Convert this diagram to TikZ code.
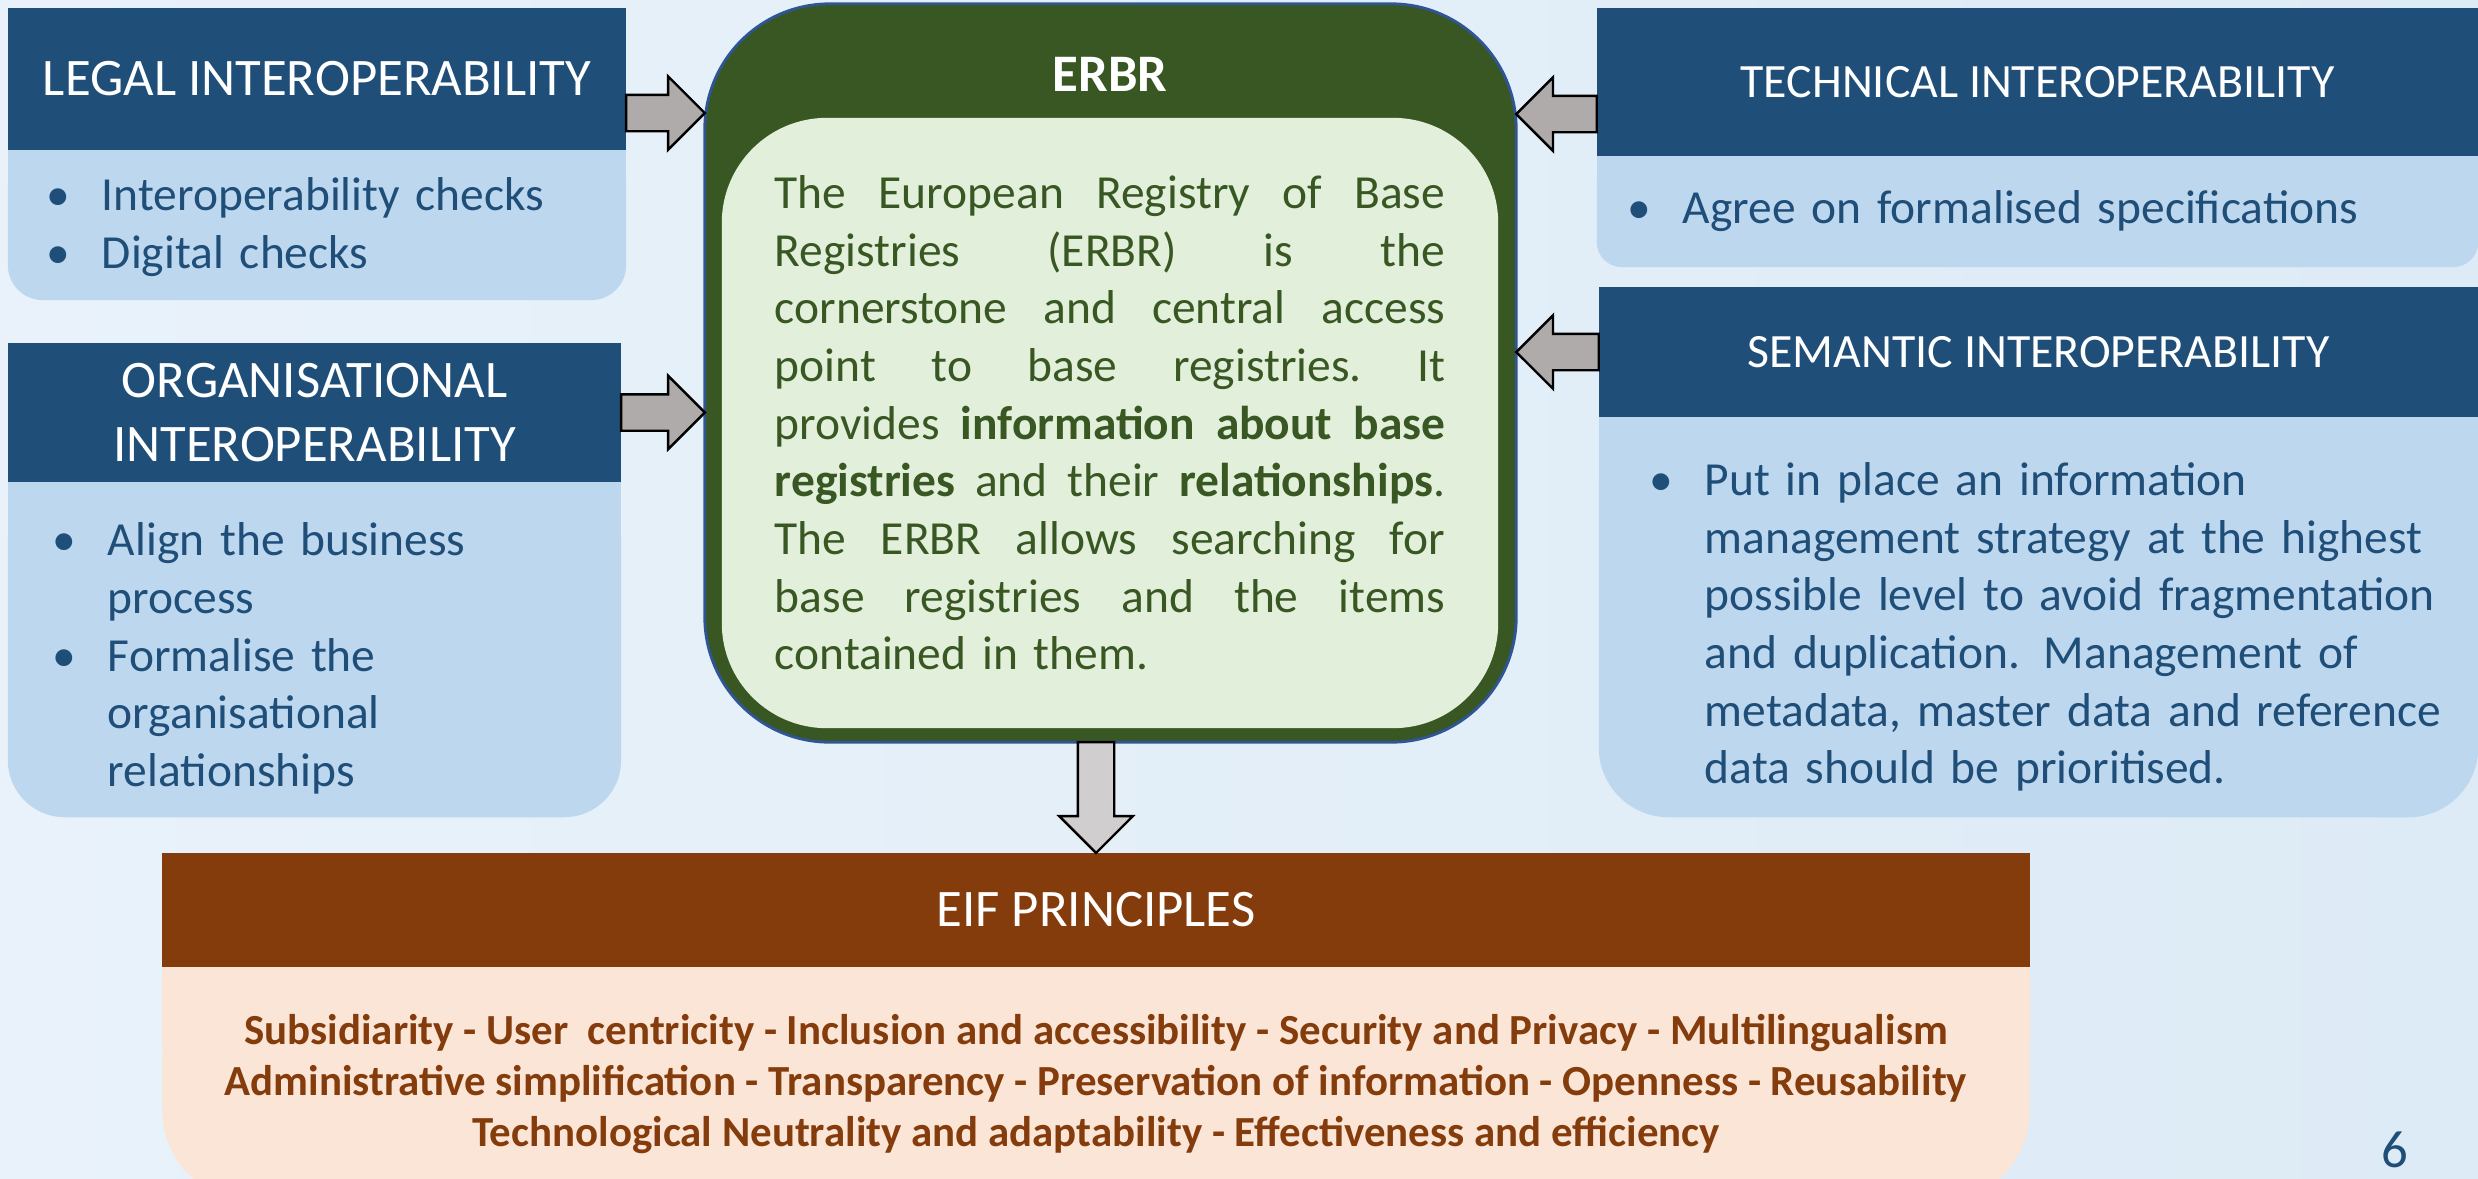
\documentclass[tikz,border=0pt]{standalone}
\usepackage{fontspec}
\setmainfont{Carlito}
\usepackage{tikz}
\usetikzlibrary{shapes,arrows,positioning,calc}
\definecolor{headBlue}{RGB}{31,78,121}
\definecolor{bodyBlue}{RGB}{189,215,238}
\definecolor{erbrGreen}{RGB}{56,87,35}
\definecolor{erbrLight}{RGB}{226,239,218}
\definecolor{erbrEdge}{RGB}{47,85,151}
\definecolor{eifBrown}{RGB}{132,60,12}
\definecolor{eifLight}{RGB}{251,229,214}
\definecolor{arrowGray}{RGB}{175,171,171}
\definecolor{downGray}{RGB}{208,206,206}
\definecolor{bgLeft}{RGB}{233,242,250}
\definecolor{bgRight}{RGB}{221,235,246}
\tikzstyle{headBox} = [rectangle, fill=headBlue, text=white, align=center, inner sep=0pt, outer sep=0pt, font=\fontsize{15}{18}\selectfont]
\tikzstyle{bodyBox} = [rectangle, fill=bodyBlue, text=headBlue, align=left, inner ysep=0pt, outer sep=0pt, font=\fontsize{13.5}{16.4}\selectfont]
\tikzstyle{erbrBox} = [rectangle, rounded corners=1.25cm, fill=erbrGreen, draw=erbrEdge, line width=0.8pt, outer sep=0pt]
\tikzstyle{erbrInner} = [rectangle, rounded corners=1.05cm, fill=erbrLight, text=erbrGreen, align=left, inner sep=0pt, font=\fontsize{13.5}{16.4}\selectfont]
\tikzstyle{eifBody} = [rectangle, fill=eifLight, text=eifBrown, align=center, inner sep=0pt, outer sep=0pt, font=\fontsize{12.2}{14.4}\selectfont\bfseries]
\tikzstyle{arrowShape} = [single arrow, draw=black, line width=0.7pt, inner xsep=0pt, inner ysep=0.17cm, single arrow head extend=0.185cm, outer sep=0pt]
\tikzset{blockArrow/.style={to path={let \p1=(\tikztostart), \p2=(\tikztotarget), \n1={veclen(\x2-\x1,\y2-\y1)}, \n2={atan2(\y2-\y1,\x2-\x1)} in node[arrowShape, fill=#1, minimum height=\n1, rotate=\n2, anchor=tail] at (\p1) {}}}}
\newcommand{\jline}[1]{\leavevmode\hbox to 6.7cm{\spaceskip=\fontdimen2\font plus 1fil\xspaceskip=\spaceskip\relax #1}}

\begin{document}
\begin{tikzpicture}[x=0.01cm,y=-0.01cm]
	\useasboundingbox (0,0) rectangle (2478,1178);
	\clip (0,0) rectangle (2478,1178);
	\shade[left color=bgLeft, right color=bgRight] (0,0) rectangle (2478,1178);
	%headers
	\node[headBox, minimum width=6.18cm, minimum height=1.42cm](legalHead) at (317,79){LEGAL INTEROPERABILITY};
	\node[headBox, minimum width=6.13cm, minimum height=1.39cm](orgHead) at (314.5,412.5){ORGANISATIONAL\\INTEROPERABILITY};
	\node[headBox, font=\fontsize{13.6}{16}\selectfont, minimum width=8.81cm, minimum height=1.48cm](techHead) at (2037.5,82){TECHNICAL INTEROPERABILITY};
	\node[headBox, font=\fontsize{13.6}{16}\selectfont, minimum width=8.79cm, minimum height=1.30cm](semHead) at (2038.5,352){SEMANTIC INTEROPERABILITY};
	\node[headBox, fill=eifBrown, minimum width=18.66cm, minimum height=1.14cm](eifHead) at (1096,910){EIF PRINCIPLES};
	\foreach \h/\c in {legalHead/bodyBlue, orgHead/bodyBlue, techHead/bodyBlue, semHead/bodyBlue, eifHead/eifLight}
		\fill[\c] (\h.south west) rectangle ([yshift=-0.8cm]\h.south east);
	%bodies
	\node[bodyBox, below=0pt of legalHead, rounded corners=0.35cm, minimum width=6.18cm, minimum height=1.50cm, inner xsep=0.39cm, text width=5.40cm](legalBody){%
		\begin{tabular}{@{}p{0.55cm}@{}l@{}}\textbullet & Interoperability checks\\ \textbullet & Digital checks\end{tabular}\vspace*{-0.06cm}};
	\node[bodyBox, below=0pt of orgHead, rounded corners=0.57cm, minimum width=6.13cm, minimum height=3.35cm, inner xsep=0.45cm, text width=5.23cm](orgBody){%
		\begin{tabular}{@{}p{0.55cm}@{}l@{}}\textbullet & Align the business\\ & process\\ \textbullet & Formalise the\\ & organisational\\ & relationships\end{tabular}\vspace*{-0.2cm}};
	\node[bodyBox, below=0pt of techHead, rounded corners=0.25cm, minimum width=8.81cm, minimum height=1.11cm, inner xsep=0.31cm, text width=8.19cm](techBody){%
		\begin{tabular}{@{}p{0.55cm}@{}l@{}}\textbullet & Agree on formalised specifications\end{tabular}};
	\node[bodyBox, below=0pt of semHead, rounded corners=0.7cm, minimum width=8.79cm, minimum height=4.00cm, inner xsep=0.51cm, text width=7.77cm](semBody){%
		\begin{tabular}{@{}p{0.55cm}@{}l@{}}\textbullet & Put in place an information\\ & management strategy at the highest\\ & possible level to avoid fragmentation\\ & and duplication. Management of\\ & metadata, master data and reference\\ & data should be prioritised.\end{tabular}\vspace*{-0.22cm}};
	\node[eifBody, below=0pt of eifHead, rounded corners=0.9cm, minimum width=18.66cm, minimum height=2.34cm](eifBody){%
		Subsidiarity - User\ \ centricity - Inclusion and accessibility - Security and Privacy - Multilingualism\\
		Administrative simplification - Transparency - Preservation of information - Openness - Reusability\\
		Technological Neutrality and adaptability - Effectiveness and efficiency};
	%erbr
	\node[erbrBox, minimum width=8.11cm, minimum height=7.38cm](erbr) at (1110.5,373){};
	\node[text=white, font=\fontsize{15}{18}\selectfont\bfseries](erbrTitle) at (1110,74){ERBR};
	\node[erbrInner, minimum width=7.76cm, minimum height=6.10cm, text width=6.7cm](erbrText) at (1110,423){%
		\jline{The European Registry of Base}\\
		\jline{Registries (ERBR) is the}\\
		\jline{cornerstone and central access}\\
		\jline{point to base registries. It}\\
		\jline{provides \textbf{information about base}}\\
		\jline{\textbf{registries} and their \textbf{relationships}.}\\
		\jline{The ERBR allows searching for}\\
		\jline{base registries and the items}\\
		contained in them.};
	\node[text=headBlue, inner sep=0pt, font=\fontsize{15}{18}\selectfont](pageNum) at (2395,1150){6};
	%arrows
	\coordinate (legalOut) at ([yshift=-0.34cm]legalHead.east);
	\coordinate (techOut) at ([yshift=-0.32cm]techHead.west);
	\path[blockArrow=arrowGray](legalOut) to (legalOut -| erbr.west);
	\path[blockArrow=arrowGray](orgHead.east) to (orgHead.east -| erbr.west);
	\path[blockArrow=arrowGray](techOut) to (techOut -| erbr.east);
	\path[blockArrow=arrowGray](semHead.west) to (semHead.west -| erbr.east);
	\path[blockArrow=downGray](erbr.south -| eifHead.north) to (eifHead.north);
\end{tikzpicture}
\end{document}
